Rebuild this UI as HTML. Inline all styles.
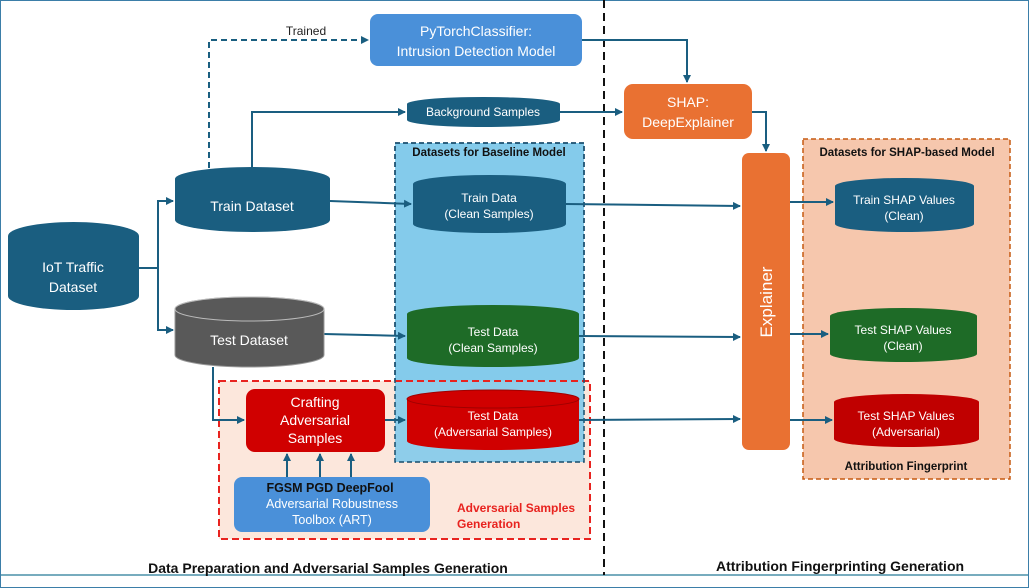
<!DOCTYPE html>
<html><head><meta charset="utf-8"><style>
html,body{margin:0;padding:0;background:#fff;}
svg{display:block;font-family:"Liberation Sans",sans-serif;}
</style></head><body>
<svg width="1029" height="588" viewBox="0 0 1029 588" xmlns="http://www.w3.org/2000/svg">
<defs>
<marker id="a" markerWidth="8" markerHeight="8" refX="7" refY="4" orient="auto" markerUnits="userSpaceOnUse"><path d="M0,0 L8,4 L0,8 Z" fill="#1a5e80"/></marker>
</defs>
<rect x="0.5" y="0.5" width="1028" height="587" fill="#fff" stroke="#3b7ea8" stroke-width="1"/>
<line x1="1" y1="575" x2="1028" y2="575" stroke="#4a90a8" stroke-width="1.5"/>

<!-- group boxes -->
<rect x="395" y="143" width="189" height="319" fill="#84cbeb" stroke="#1a4f6e" stroke-width="1.5" stroke-dasharray="5,3"/>
<rect x="219" y="381" width="371" height="158" fill="#fbe3d6" fill-opacity="0.85" stroke="#e8231f" stroke-width="2" stroke-dasharray="7,4"/>
<rect x="395" y="381" width="189" height="81" fill="#84cbeb" opacity="0.9"/>
<line x1="395" y1="381" x2="590" y2="381" stroke="#e8231f" stroke-width="2" stroke-dasharray="7,4"/>
<rect x="395" y="143" width="189" height="319" fill="none" stroke="#1a4f6e" stroke-width="1.5" stroke-dasharray="5,3"/>
<rect x="803" y="139" width="207" height="340" fill="#f6c7ad" stroke="#c55a11" stroke-width="1.5" stroke-dasharray="5,3"/>
<line x1="604" y1="0" x2="604" y2="575" stroke="#111" stroke-width="2" stroke-dasharray="8,5"/>

<!-- connectors -->
<g fill="none" stroke="#1a5e80" stroke-width="2">
<path d="M209,168 V40 H368" stroke-dasharray="6,4" marker-end="url(#a)"/>
<path d="M252,168 V112 H405" marker-end="url(#a)"/>
<path d="M560,112 H622" marker-end="url(#a)"/>
<path d="M582,40 H687 V82" marker-end="url(#a)"/>
<path d="M752,112 H766 V151" marker-end="url(#a)"/>
<path d="M139,268 H158 V201 H173" marker-end="url(#a)"/>
<path d="M158,268 V330 H173" marker-end="url(#a)"/>
<path d="M330,201 L411,204" marker-end="url(#a)"/>
<path d="M566,204 L740,206" marker-end="url(#a)"/>
<path d="M324,334 L405,336" marker-end="url(#a)"/>
<path d="M579,336 L740,337" marker-end="url(#a)"/>
<path d="M213,367 V420 H244" marker-end="url(#a)"/>
<path d="M385,420 H405" marker-end="url(#a)"/>
<path d="M579,420 L740,419" marker-end="url(#a)"/>
<path d="M287,477 V454" marker-end="url(#a)"/>
<path d="M320,477 V454" marker-end="url(#a)"/>
<path d="M351,477 V454" marker-end="url(#a)"/>
<path d="M790,202 H833" marker-end="url(#a)"/>
<path d="M790,334 H828" marker-end="url(#a)"/>
<path d="M790,420 H832" marker-end="url(#a)"/>
</g>
<text x="306" y="35" font-size="12" text-anchor="middle" fill="#222">Trained</text>

<!-- boxes -->
<rect x="370" y="14" width="212" height="52" rx="8" fill="#4a90d9"/>
<text x="476" y="36" font-size="14" fill="#fff" text-anchor="middle">PyTorchClassifier:</text>
<text x="476" y="56" font-size="14" fill="#fff" text-anchor="middle">Intrusion Detection Model</text>

<rect x="624" y="84" width="128" height="55" rx="9" fill="#e97132"/>
<text x="688" y="107" font-size="14" fill="#fff" text-anchor="middle">SHAP:</text>
<text x="688" y="127" font-size="14" fill="#fff" text-anchor="middle">DeepExplainer</text>

<rect x="742" y="153" width="48" height="297" rx="7" fill="#e97132"/>
<text transform="translate(772,302) rotate(-90)" font-size="17" fill="#fff" text-anchor="middle">Explainer</text>

<rect x="246" y="389" width="139" height="63" rx="9" fill="#d00000"/>
<text x="315" y="407" font-size="14" fill="#fff" text-anchor="middle">Crafting</text>
<text x="315" y="425" font-size="14" fill="#fff" text-anchor="middle">Adversarial</text>
<text x="315" y="443" font-size="14" fill="#fff" text-anchor="middle">Samples</text>

<rect x="234" y="477" width="196" height="55" rx="8" fill="#4a90d9"/>
<text x="330" y="492" font-size="12.5" font-weight="bold" fill="#111" text-anchor="middle">FGSM  PGD  DeepFool</text>
<text x="332" y="508" font-size="12.5" fill="#fff" text-anchor="middle">Adversarial Robustness</text>
<text x="332" y="524" font-size="12.5" fill="#fff" text-anchor="middle">Toolbox (ART)</text>

<!-- cylinders -->
<g>
<path d="M8,236 A65.5,14 0 0 1 139,236 V296 A65.5,14 0 0 1 8,296 Z" fill="#1a5e80"/>
<text x="73" y="272" font-size="14" fill="#fff" text-anchor="middle">IoT Traffic</text>
<text x="73" y="292" font-size="14" fill="#fff" text-anchor="middle">Dataset</text>

<path d="M175,179 A77.5,12 0 0 1 330,179 V220 A77.5,12 0 0 1 175,220 Z" fill="#1a5e80"/>
<text x="252" y="211" font-size="14" fill="#fff" text-anchor="middle">Train Dataset</text>

<path d="M175,309 A74.5,12 0 0 1 324,309 V355 A74.5,12 0 0 1 175,355 Z" fill="#595959" stroke="#999" stroke-width="1"/>
<ellipse cx="249.5" cy="309" rx="74.5" ry="12" fill="#595959" stroke="#bbb" stroke-width="1"/>
<text x="249" y="345" font-size="14" fill="#fff" text-anchor="middle">Test Dataset</text>

<path d="M407,104 A76.5,7 0 0 1 560,104 V120 A76.5,7 0 0 1 407,120 Z" fill="#1a5e80"/>
<text x="483" y="116" font-size="12" fill="#fff" text-anchor="middle">Background Samples</text>

<path d="M413,184 A76.5,9 0 0 1 566,184 V224 A76.5,9 0 0 1 413,224 Z" fill="#1a5e80"/>
<text x="489" y="202" font-size="12" fill="#fff" text-anchor="middle">Train Data</text>
<text x="489" y="218" font-size="12" fill="#fff" text-anchor="middle">(Clean Samples)</text>

<path d="M407,314 A86,9 0 0 1 579,314 V358 A86,9 0 0 1 407,358 Z" fill="#1e6b27"/>
<text x="493" y="336" font-size="12" fill="#fff" text-anchor="middle">Test Data</text>
<text x="493" y="352" font-size="12" fill="#fff" text-anchor="middle">(Clean Samples)</text>

<path d="M407,399 A86,9 0 0 1 579,399 V441 A86,9 0 0 1 407,441 Z" fill="#d00000"/>
<ellipse cx="493" cy="399" rx="86" ry="9" fill="#d00000" stroke="#a00000" stroke-width="1"/>
<text x="493" y="420" font-size="12" fill="#fff" text-anchor="middle">Test Data</text>
<text x="493" y="436" font-size="12" fill="#fff" text-anchor="middle">(Adversarial Samples)</text>

<path d="M835,186 A69.5,8 0 0 1 974,186 V224 A69.5,8 0 0 1 835,224 Z" fill="#1a5e80"/>
<text x="904" y="204" font-size="12" fill="#fff" text-anchor="middle">Train SHAP Values</text>
<text x="904" y="220" font-size="12" fill="#fff" text-anchor="middle">(Clean)</text>

<path d="M830,316 A73.5,8 0 0 1 977,316 V354 A73.5,8 0 0 1 830,354 Z" fill="#1e6b27"/>
<text x="903" y="334" font-size="12" fill="#fff" text-anchor="middle">Test SHAP Values</text>
<text x="903" y="350" font-size="12" fill="#fff" text-anchor="middle">(Clean)</text>

<path d="M834,402 A72.5,8 0 0 1 979,402 V439 A72.5,8 0 0 1 834,439 Z" fill="#c00000"/>
<text x="906" y="420" font-size="12" fill="#fff" text-anchor="middle">Test SHAP Values</text>
<text x="906" y="436" font-size="12" fill="#fff" text-anchor="middle">(Adversarial)</text>
</g>

<!-- labels -->
<text x="489" y="156" font-size="11.5" font-weight="bold" fill="#111" text-anchor="middle">Datasets for Baseline Model</text>
<text x="907" y="156" font-size="11.5" font-weight="bold" fill="#111" text-anchor="middle">Datasets for SHAP-based Model</text>
<text x="906" y="470" font-size="11.5" font-weight="bold" fill="#111" text-anchor="middle">Attribution Fingerprint</text>
<text x="457" y="512" font-size="12" font-weight="bold" fill="#e8231f">Adversarial Samples</text>
<text x="457" y="528" font-size="12" font-weight="bold" fill="#e8231f">Generation</text>
<text x="328" y="573" font-size="14" font-weight="bold" fill="#111" text-anchor="middle">Data Preparation and Adversarial Samples Generation</text>
<text x="840" y="571" font-size="14" font-weight="bold" fill="#111" text-anchor="middle">Attribution Fingerprinting Generation</text>
</svg>
</body></html>
